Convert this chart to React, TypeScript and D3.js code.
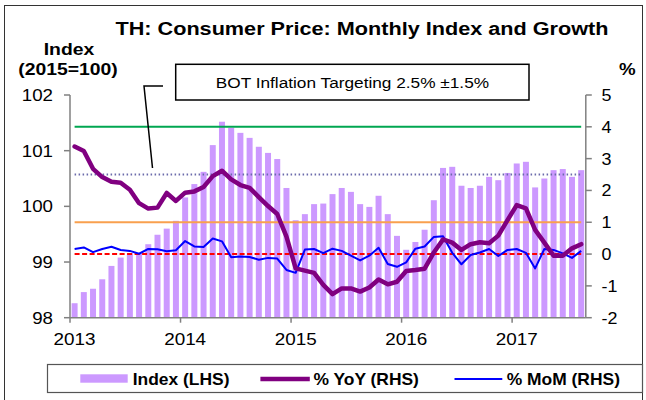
import React from 'react';
import * as d3 from 'd3';

// months Jan 2013 .. Aug 2017
const months = [
  '2013-01','2013-02','2013-03','2013-04','2013-05','2013-06','2013-07','2013-08','2013-09','2013-10','2013-11','2013-12',
  '2014-01','2014-02','2014-03','2014-04','2014-05','2014-06','2014-07','2014-08','2014-09','2014-10','2014-11','2014-12',
  '2015-01','2015-02','2015-03','2015-04','2015-05','2015-06','2015-07','2015-08','2015-09','2015-10','2015-11','2015-12',
  '2016-01','2016-02','2016-03','2016-04','2016-05','2016-06','2016-07','2016-08','2016-09','2016-10','2016-11','2016-12',
  '2017-01','2017-02','2017-03','2017-04','2017-05','2017-06','2017-07','2017-08',
];

const indexValues = [
  98.26, 98.46, 98.52, 98.69, 98.93, 99.08, 99.16, 99.15, 99.32, 99.49, 99.60, 99.74,
  100.16, 100.40, 100.62, 101.10, 101.52, 101.41, 101.32, 101.23, 101.07, 100.96, 100.85, 100.33,
  99.75, 99.86, 100.04, 100.05, 100.22, 100.33, 100.26, 100.04, 99.99, 100.19, 99.86, 99.47,
  99.22, 99.36, 99.58, 100.11, 100.69, 100.71, 100.37, 100.33, 100.37, 100.53, 100.47, 100.60,
  100.77, 100.80, 100.34, 100.50, 100.65, 100.67, 100.53, 100.65,
];

const yoyValues = [
  3.38, 3.24, 2.68, 2.42, 2.27, 2.24, 2.02, 1.60, 1.43, 1.46, 1.92, 1.67,
  1.93, 1.97, 2.11, 2.45, 2.62, 2.35, 2.17, 2.08, 1.79, 1.51, 1.26, 0.55,
  -0.45, -0.52, -0.59, -0.97, -1.26, -1.08, -1.08, -1.18, -1.05, -0.80, -0.95, -0.87,
  -0.53, -0.50, -0.46, 0.05, 0.46, 0.36, 0.13, 0.31, 0.37, 0.34, 0.58, 1.07,
  1.54, 1.44, 0.76, 0.36, -0.05, -0.05, 0.18, 0.31,
];

const momValues = [
  0.16, 0.21, 0.06, 0.16, 0.23, 0.13, 0.10, 0.01, 0.16, 0.15, 0.09, 0.12,
  0.41, 0.24, 0.22, 0.49, 0.40, -0.10, -0.08, -0.09, -0.18, -0.12, -0.14, -0.50,
  -0.59, 0.14, 0.16, 0.03, 0.17, 0.10, -0.05, -0.20, -0.05, 0.20, -0.31, -0.40,
  -0.26, 0.17, 0.24, 0.54, 0.56, 0.04, -0.32, -0.03, 0.05, 0.16, -0.06, 0.13,
  0.16, 0.04, -0.45, 0.16, 0.13, 0.02, -0.12, 0.10,
];

const years = ['2013', '2014', '2015', '2016', '2017'];
const leftTicks = [98, 99, 100, 101, 102];
const rightTicks = [-2, -1, 0, 1, 2, 3, 4, 5];

// BOT target band: upper, mid, lower, zero
const targetUpper = 4;
const targetMid = 2.5;
const targetLower = 1;
const zeroLine = 0;

const FONT = "Arial, 'Liberation Sans', sans-serif";

const T = ({ x, y, sx = 1.15, anchor = 'start', size = 16, bold = false, children }: any) => (
  <text
    transform={`translate(${x},${y}) scale(${sx},1)`}
    textAnchor={anchor}
    fontSize={size}
    fontWeight={bold ? 'bold' : 'normal'}
    fontFamily={FONT}
    fill="#000"
  >
    {children}
  </text>
);

export default function App() {
  const left = 70, right = 585.8, top = 95, bottom = 317.7;

  const x = d3.scaleBand<string>().domain(months).range([left, right]).paddingInner(0.35).paddingOuter(0.175);
  const yL = d3.scaleLinear().domain([98, 102]).range([bottom, top]);
  const yR = d3.scaleLinear().domain([-2, 5]).range([bottom, top]);
  const bw = x.bandwidth();
  const cx = (m: string) => (x(m) as number) + bw / 2;
  const slotStart = (m: string) => (x(m) as number) - x.step() * 0.175;

  const line = d3.line<number>().x((_, i) => cx(months[i])).y((d) => yR(d));

  const x0 = cx(months[0]);
  const x1 = cx(months[months.length - 1]);

  return (
    <div style={{ position: 'absolute', left: 0, top: 0 }}>
      <svg width={646} height={400} style={{ display: 'block', background: '#fff' }}>
        {/* outer frame */}
        <rect x={4.5} y={5.5} width={638} height={420} fill="none" stroke="#333" strokeWidth={1} />

        <T x={362} y={35} size={19} bold sx={1.14} anchor="middle">TH: Consumer Price: Monthly Index and Growth</T>
        <T x={69} y={55} size={17} bold sx={1.14} anchor="middle">Index</T>
        <T x={68} y={75} size={17} bold sx={1.14} anchor="middle">(2015=100)</T>
        <T x={619} y={75} size={17} bold sx={1.1}>%</T>

        {/* bars */}
        {indexValues.map((v, i) => (
          <rect key={months[i]} x={x(months[i])} y={yL(v)} width={bw} height={bottom - yL(v)} fill="#cc99ff" />
        ))}

        {/* target lines */}
        <line x1={x0} x2={x1} y1={yR(targetUpper)} y2={yR(targetUpper)} stroke="#00a651" strokeWidth={2} />
        <line x1={x0} x2={x1} y1={yR(targetMid)} y2={yR(targetMid)} stroke="#6b6bab" strokeWidth={2} strokeDasharray="1.5,2.5" />
        <line x1={x0} x2={x1} y1={yR(targetLower)} y2={yR(targetLower)} stroke="#f9a04e" strokeWidth={2} />
        <line x1={x0} x2={x1} y1={yR(zeroLine)} y2={yR(zeroLine)} stroke="#ff0000" strokeWidth={2} strokeDasharray="5,2.5" />

        {/* series */}
        <path d={line(momValues) as string} fill="none" stroke="#0000ff" strokeWidth={2} strokeLinejoin="round" />
        <path d={line(yoyValues) as string} fill="none" stroke="#800080" strokeWidth={4.5} strokeLinejoin="round" strokeLinecap="round" />

        {/* axes */}
        <g stroke="#808080" strokeWidth={1.5}>
          <line x1={left} x2={left} y1={top} y2={bottom} />
          <line x1={right} x2={right} y1={top} y2={bottom} />
          <line x1={left} x2={right} y1={bottom} y2={bottom} />
          {leftTicks.map((t) => (
            <line key={'l' + t} x1={left - 6} x2={left} y1={yL(t)} y2={yL(t)} />
          ))}
          {rightTicks.map((t) => (
            <line key={'r' + t} x1={right} x2={right + 6} y1={yR(t)} y2={yR(t)} />
          ))}
          {years.map((yr) => (
            <line key={'x' + yr} x1={slotStart(yr + '-01')} x2={slotStart(yr + '-01')} y1={bottom} y2={bottom + 5} />
          ))}
        </g>
        {leftTicks.map((t) => (
          <T key={'lt' + t} x={53} y={yL(t) + 6} anchor="end" sx={1.17}>{String(t)}</T>
        ))}
        {rightTicks.map((t) => (
          <T key={'rt' + t} x={601.5} y={yR(t) + 6} sx={1.12}>{String(t)}</T>
        ))}
        {years.map((yr) => (
          <T key={'yt' + yr} x={cx(yr + '-01')} y={345} anchor="middle" sx={1.18}>{yr}</T>
        ))}

        {/* annotation */}
        <rect x={175.7} y={64.3} width={353.3} height={35.7} fill="#fff" stroke="#000" strokeWidth={1.5} />
        <T x={352.4} y={88} size={15} sx={1.15} anchor="middle">BOT Inflation Targeting 2.5% ±1.5%</T>
        <polyline points="163,86 144,86 152.5,168" fill="none" stroke="#000" strokeWidth={1.5} />

        {/* legend */}
        <rect x={47.5} y={364.5} width={595} height={28} fill="#fff" stroke="#555" strokeWidth={1.2} />
        <rect x={80.3} y={374.3} width={47.4} height={8.4} fill="#cc99ff" />
        <T x={132.7} y={384.5} size={16} bold sx={1.09}>Index (LHS)</T>
        <line x1={260.4} x2={309.8} y1={379} y2={379} stroke="#800080" strokeWidth={4.5} />
        <T x={313.4} y={384.5} size={16} bold sx={1.09}>% YoY (RHS)</T>
        <line x1={454.5} x2={502.3} y1={379} y2={379} stroke="#0000ff" strokeWidth={2} />
        <T x={506.7} y={384.5} size={16} bold sx={1.09}>% MoM (RHS)</T>
      </svg>
    </div>
  );
}
